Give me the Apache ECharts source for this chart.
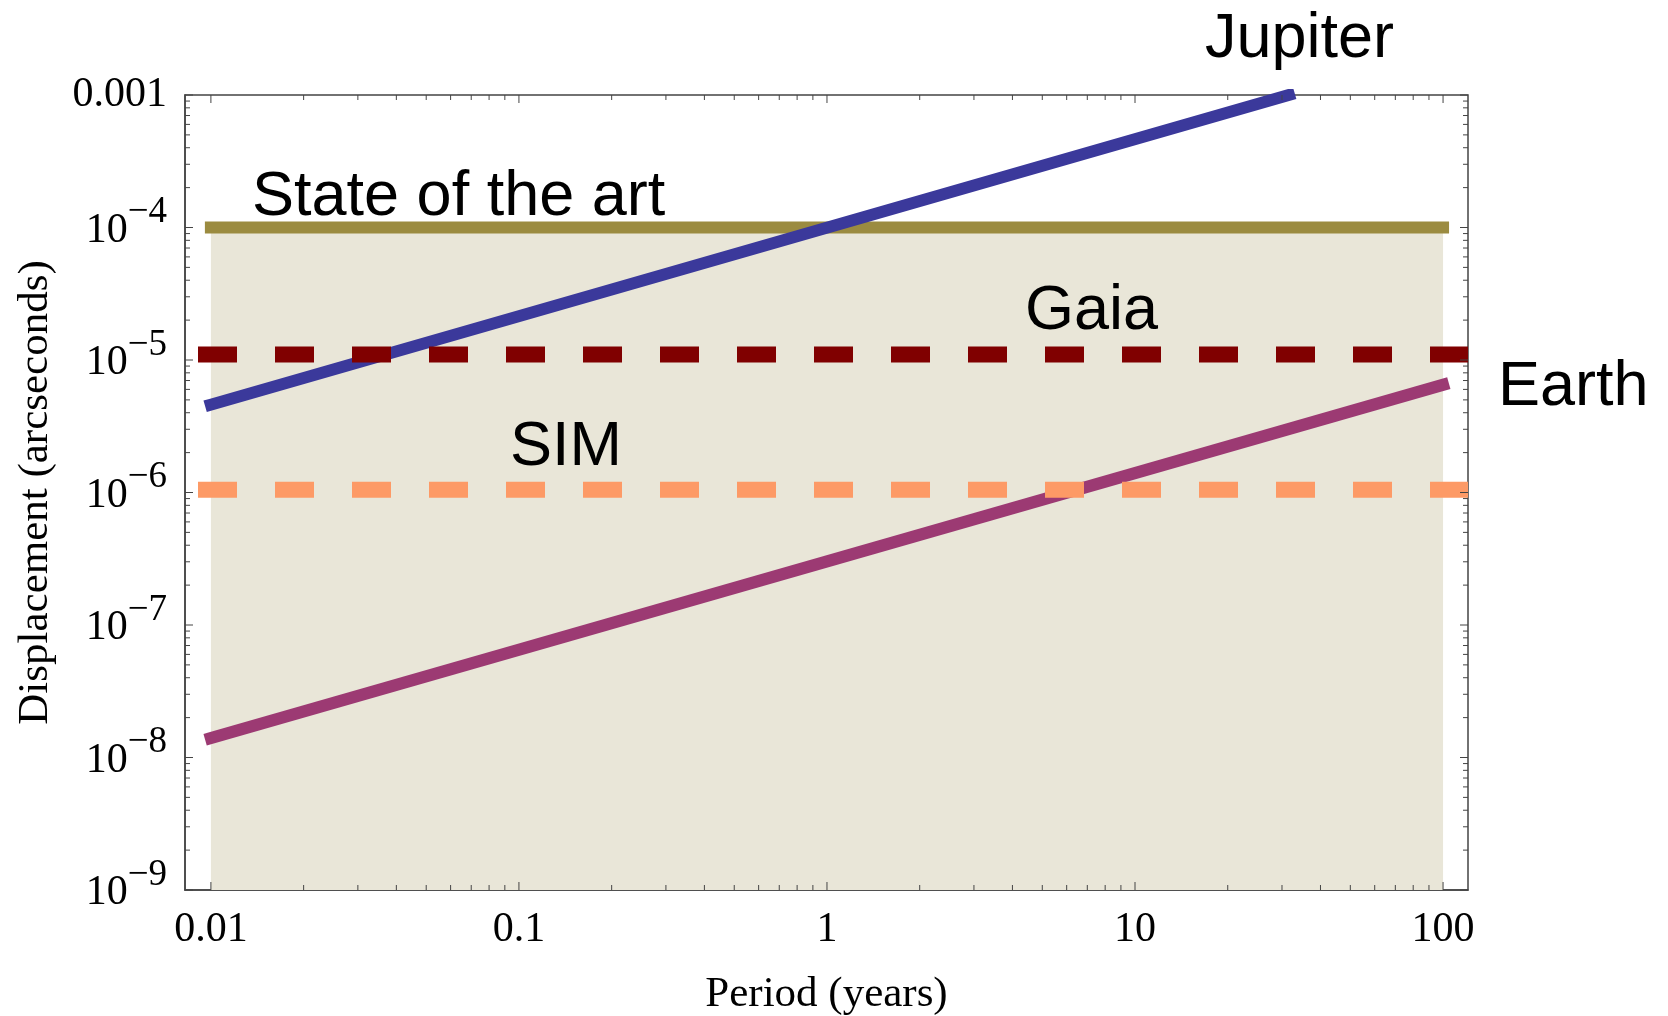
<!DOCTYPE html>
<html>
<head>
<meta charset="utf-8">
<title>Astrometric displacement vs period</title>
<script src="https://cdn.jsdelivr.net/npm/echarts@6/dist/echarts.min.js"></script>
<style>
  html, body { margin: 0; padding: 0; background: #ffffff; }
  #chart { width: 1668px; height: 1016px; }
</style>
</head>
<body>
<div id="chart"></div>
<script>
// Axis extents (period in years, displacement in arcseconds)
const periodMin = 0.00824;
const periodMax = 120.5;
const dispMin = 1e-9;
const dispMax = 1e-3;

// Decade tick values and the minor multipliers drawn between them
const periodDecades = [0.01, 0.1, 1, 10, 100];
const dispDecades = [1e-9, 1e-8, 1e-7, 1e-6, 1e-5, 1e-4, 1e-3];
const minorSteps = [2, 3, 4, 5, 6, 7, 8, 9];
const periodTickLabels = ['0.01', '0.1', '1', '10', '100'];

// Planet signals: straight lines on log-log axes (end points)
const jupiterPeriod = [0.01, 31.6];
const jupiterDisp = [4.6e-6, 1e-3];
const earthPeriod = [0.01, 100];
const earthDisp = [1.4e-8, 6.5e-6];

// Instrument precision levels
const stateOfArtPeriod = [0.01, 100];
const stateOfArtDisp = 1e-4;
const gaiaDisp = 1.1e-5;
const simDisp = 1.05e-6;

const serif = '"Liberation Serif", "Times New Roman", serif';
const sans = '"Liberation Sans", Arial, sans-serif';
const tickColor = '#444444';

function pairs(xs, ys) { return xs.map((x, i) => [x, ys[i]]); }

function buildTicks(decades) {
  const out = [];
  decades.forEach((d, i) => {
    out.push([d, 1]);
    if (i < decades.length - 1) minorSteps.forEach(m => out.push([d * m, 0]));
  });
  return out;
}
const periodTicks = buildTicks(periodDecades);
const dispTicks = buildTicks(dispDecades);

const chart = echarts.init(document.getElementById('chart'), null, { renderer: 'canvas' });

const option = {
  animation: false,
  backgroundColor: '#ffffff',
  grid: {
    left: 185, right: 200, top: 95, bottom: 126,
    outerBoundsMode: 'none', containLabel: false,
    show: true, borderColor: tickColor, borderWidth: 1.5, backgroundColor: 'transparent'
  },
  xAxis: {
    type: 'log', logBase: 10, min: periodMin, max: periodMax,
    name: 'Period (years)', nameLocation: 'middle', nameGap: 83,
    nameTextStyle: { fontFamily: serif, fontSize: 43, color: '#000' },
    axisLine: { show: true, lineStyle: { color: tickColor, width: 1.5 } },
    axisTick: { show: false },
    splitLine: { show: false },
    minorTick: { show: false },
    axisLabel: {
      margin: 19, fontFamily: serif, fontSize: 42, color: '#000',
      showMinLabel: false, showMaxLabel: false,
      formatter: v => {
        const k = Math.round(Math.log10(v));
        if (Math.abs(Math.log10(v) - k) > 1e-6) return '';
        const idx = periodDecades.findIndex(d => Math.abs(Math.log10(d) - k) < 1e-6);
        return idx >= 0 ? periodTickLabels[idx] : '';
      }
    }
  },
  yAxis: {
    type: 'log', logBase: 10, min: dispMin, max: dispMax,
    name: 'Displacement (arcseconds)', nameLocation: 'middle', nameGap: 128,
    nameTextStyle: { fontFamily: serif, fontSize: 43, color: '#000' },
    axisLine: { show: true, lineStyle: { color: tickColor, width: 1.5 } },
    axisTick: { show: false },
    splitLine: { show: false },
    minorTick: { show: false },
    axisLabel: {
      margin: 18, color: '#000',
      formatter: v => {
        const k = Math.round(Math.log10(v));
        if (Math.abs(Math.log10(v) - k) > 1e-6) return '';
        if (k === -3) return '{p|0.001}';
        return '{b|10}{s|\u2212' + (-k) + '}';
      },
      rich: {
        p: { fontFamily: serif, fontSize: 42, color: '#000' },
        b: { fontFamily: serif, fontSize: 42, color: '#000', padding: [6, 0, 0, 0] },
        s: { fontFamily: serif, fontSize: 37, color: '#000', padding: [0, 0, 30, 0] }
      }
    }
  },
  series: [
    {
      // shaded region below the state-of-the-art precision
      name: 'region', type: 'line', silent: true, showSymbol: false, z: 1,
      data: pairs(stateOfArtPeriod, [stateOfArtDisp, stateOfArtDisp]),
      lineStyle: { width: 0, opacity: 0 },
      areaStyle: { color: '#e9e6d8', opacity: 1, origin: 'start' }
    },
    {
      name: 'State of the art', type: 'line', silent: true, showSymbol: false, z: 3,
      data: pairs(stateOfArtPeriod, [stateOfArtDisp, stateOfArtDisp]),
      lineStyle: { color: '#9b8b40', width: 12, cap: 'square' }
    },
    {
      name: 'Jupiter', type: 'line', silent: true, showSymbol: false, z: 4, clip: true,
      data: pairs(jupiterPeriod, jupiterDisp),
      lineStyle: { color: '#3b399b', width: 12, cap: 'square' }
    },
    {
      name: 'Earth', type: 'line', silent: true, showSymbol: false, z: 4,
      data: pairs(earthPeriod, earthDisp),
      lineStyle: { color: '#9c3a73', width: 12, cap: 'square' }
    },
    {
      name: 'SIM', type: 'line', silent: true, showSymbol: false, z: 5,
      data: [[periodMin, simDisp], [periodMax, simDisp]],
      lineStyle: { color: '#fd9a66', width: 16, type: [39, 38], dashOffset: 64, cap: 'butt' }
    },
    {
      name: 'Gaia', type: 'line', silent: true, showSymbol: false, z: 5,
      data: [[periodMin, gaiaDisp], [periodMax, gaiaDisp]],
      lineStyle: { color: '#800000', width: 16, type: [39, 38], dashOffset: 64, cap: 'butt' }
    },
    {
      // frame ticks on bottom and top edges
      name: 'periodTicks', type: 'custom', silent: true, z: 10, clip: false,
      data: periodTicks.map(t => [t[0], dispMin, t[1]]),
      renderItem: (params, api) => {
        const cs = params.coordSys;
        const x = api.coord([api.value(0), 1e-6])[0];
        const len = api.value(2) ? 8 : 5;
        const style = { stroke: tickColor, lineWidth: 1 };
        return {
          type: 'group',
          children: [
            { type: 'line', shape: { x1: x, y1: cs.y + cs.height, x2: x, y2: cs.y + cs.height - len }, style },
            { type: 'line', shape: { x1: x, y1: cs.y, x2: x, y2: cs.y + len }, style }
          ]
        };
      }
    },
    {
      // frame ticks on left and right edges
      name: 'dispTicks', type: 'custom', silent: true, z: 10, clip: false,
      data: dispTicks.map(t => [1, t[0], t[1]]),
      renderItem: (params, api) => {
        const cs = params.coordSys;
        const y = api.coord([1, api.value(1)])[1];
        const len = api.value(2) ? 8 : 5;
        const style = { stroke: tickColor, lineWidth: 1 };
        return {
          type: 'group',
          children: [
            { type: 'line', shape: { x1: cs.x, y1: y, x2: cs.x + len, y2: y }, style },
            { type: 'line', shape: { x1: cs.x + cs.width, y1: y, x2: cs.x + cs.width - len, y2: y }, style }
          ]
        };
      }
    }
  ],
  graphic: [
    { type: 'text', z: 20, style: { text: 'Jupiter', x: 1205, y: 40, font: '63px ' + sans, fill: '#000', align: 'left', verticalAlign: 'middle' } },
    { type: 'text', z: 20, style: { text: 'State of the art', x: 252, y: 198, font: '63px ' + sans, fill: '#000', align: 'left', verticalAlign: 'middle' } },
    { type: 'text', z: 20, style: { text: 'Gaia', x: 1025, y: 312, font: '63px ' + sans, fill: '#000', align: 'left', verticalAlign: 'middle' } },
    { type: 'text', z: 20, style: { text: 'SIM', x: 510, y: 448, font: '63px ' + sans, fill: '#000', align: 'left', verticalAlign: 'middle' } },
    { type: 'text', z: 20, style: { text: 'Earth', x: 1498, y: 388, font: '63px ' + sans, fill: '#000', align: 'left', verticalAlign: 'middle' } }
  ]
};

chart.setOption(option);
</script>
</body>
</html>
